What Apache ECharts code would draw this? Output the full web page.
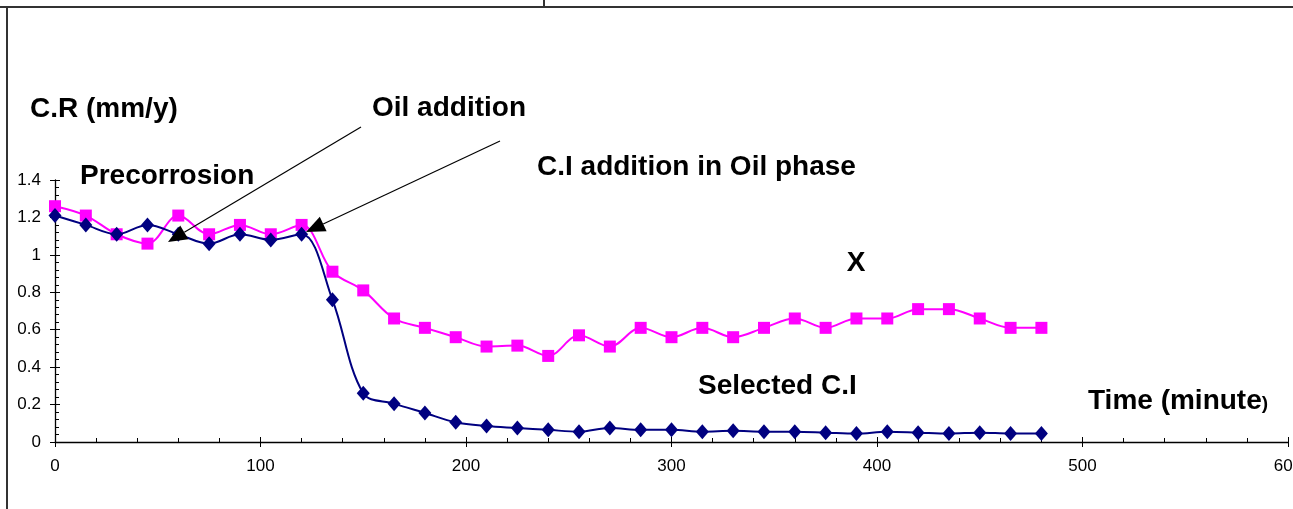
<!DOCTYPE html>
<html><head><meta charset="utf-8">
<script src="https://cdn.jsdelivr.net/npm/echarts@6/dist/echarts.min.js"></script>
<style>html,body{margin:0;padding:0;background:#fff}#c{width:1293px;height:509px}</style>
</head><body><div id="c"></div>
<script>
var times = [0,15,30,45,60,75,90,105,120,135,150,165,180,195,210,225,240,255,270,285,300,315,330,345,360,375,390,405,420,435,450,465,480];
var seriesX = [1.26,1.21,1.11,1.06,1.21,1.11,1.16,1.11,1.16,0.91,0.81,0.66,0.61,0.56,0.51,0.515,0.46,0.57,0.51,0.61,0.56,0.61,0.56,0.61,0.66,0.61,0.66,0.66,0.71,0.71,0.66,0.61,0.61];
var seriesCI = [1.21,1.16,1.11,1.16,1.11,1.06,1.11,1.08,1.11,0.76,0.26,0.205,0.155,0.105,0.085,0.075,0.065,0.055,0.075,0.065,0.065,0.055,0.06,0.055,0.055,0.05,0.045,0.055,0.05,0.045,0.05,0.045,0.045];
var xTicks = [0,100,200,300,400,500,600];
var yTicks = [0,0.2,0.4,0.6,0.8,1,1.2,1.4];

var FONT = '"Liberation Sans", Arial, sans-serif';
function pairs(v){ return times.map(function(t,i){ return [t, v[i]]; }); }

function arrow(x0,y0,x1,y1){
  var dx=x1-x0, dy=y1-y0, L=Math.sqrt(dx*dx+dy*dy), ux=dx/L, uy=dy/L;
  var hl=19, hw=8;
  var bx=x1-ux*hl, by=y1-uy*hl, px=-uy*hw, py=ux*hw;
  return [
    {type:'line', shape:{x1:x0,y1:y0,x2:bx,y2:by}, style:{stroke:'#000',lineWidth:1.2}, z:100},
    {type:'polygon', shape:{points:[[x1,y1],[bx+px,by+py],[bx-px,by-py]]}, style:{fill:'#000'}, z:100}
  ];
}
function label(text,x,y,align){
  return {type:'text', x:x, y:y, style:{text:text, font:'bold 28px '+FONT, fill:'#000', align:align||'left', verticalAlign:'middle'}, z:100};
}

var chart = echarts.init(document.getElementById('c'), null, {renderer:'canvas'});
var axisCommon = {type:'value', min:0, max:600, interval:100};
chart.setOption({
  animation:false,
  grid:{left:55, right:5, top:180, bottom:67, containLabel:false, outerBoundsMode:'none'},
  xAxis:[
    Object.assign({}, axisCommon, {
      position:'bottom',
      axisLine:{show:true, lineStyle:{color:'#000', width:1.3}},
      axisTick:{show:true, inside:false, length:5, lineStyle:{color:'#000'}},
      axisLabel:{show:true, margin:16, fontSize:17, fontFamily:FONT, color:'#000',
        customValues: xTicks, hideOverlap:false},
      splitLine:{show:false}
    }),
    Object.assign({}, axisCommon, {
      position:'bottom',
      axisLine:{show:false},
      axisTick:{show:true, inside:true, length:5, lineStyle:{color:'#000'}},
      minorTick:{show:true, splitNumber:5, length:4, lineStyle:{color:'#000'}},
      axisLabel:{show:false},
      splitLine:{show:false}
    })
  ],
  yAxis:[
    {type:'value', min:0, max:1.4, interval:0.2, position:'left',
      axisLine:{show:true, lineStyle:{color:'#000', width:1.3}},
      axisTick:{show:true, inside:false, length:5, lineStyle:{color:'#000'}},
      axisLabel:{show:true, margin:14, fontSize:17, fontFamily:FONT, color:'#000',
        customValues: yTicks,
        formatter:function(v){ return String(Math.round(v*10)/10); }},
      splitLine:{show:false}
    },
    {type:'value', min:0, max:1.4, interval:0.2, position:'left',
      axisLine:{show:false},
      axisTick:{show:true, inside:true, length:5, lineStyle:{color:'#000'}},
      minorTick:{show:true, splitNumber:5, length:4, lineStyle:{color:'#000'}},
      axisLabel:{show:false},
      splitLine:{show:false}
    }
  ],
  series:[
    {name:'X', type:'line', data:pairs(seriesX), smooth:0.35,
      symbol:'rect', symbolSize:12,
      lineStyle:{color:'#FF00FF', width:2}, itemStyle:{color:'#FF00FF'}, z:2},
    {name:'Selected C.I', type:'line', data:pairs(seriesCI), smooth:0.35,
      symbol:'diamond', symbolSize:[13,15],
      lineStyle:{color:'#000080', width:2}, itemStyle:{color:'#000080'}, z:3}
  ],
  graphic:[
    {type:'line', shape:{x1:0,y1:7,x2:1293,y2:7}, style:{stroke:'#333',lineWidth:2}},
    {type:'line', shape:{x1:7,y1:7,x2:7,y2:509}, style:{stroke:'#333',lineWidth:2}},
    {type:'line', shape:{x1:544,y1:0,x2:544,y2:7}, style:{stroke:'#333',lineWidth:2}},
    label('C.R (mm/y)',30,109),
    label('Oil addition',372,108),
    label('Precorrosion',80,176),
    label('C.I addition in Oil phase',537,167),
    label('X',856,263,'center'),
    label('Selected C.I',698,386),
    {type:'text', x:1088, y:401, style:{
      text:'{a|Time (minute}{b|)}',
      rich:{a:{font:'bold 28px '+FONT, fill:'#000'}, b:{font:'bold 19px '+FONT, fill:'#000', padding:[6,0,0,0]}},
      verticalAlign:'middle', align:'left'}, z:100}
  ].concat(arrow(361,127,168,242)).concat(arrow(500,141,306,232))
});
</script>
</body></html>
